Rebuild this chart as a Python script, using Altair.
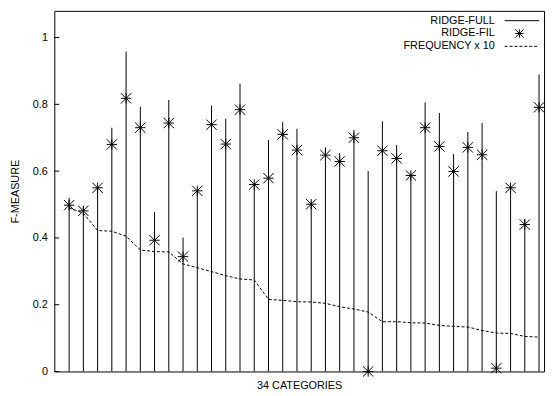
import altair as alt
import pandas as pd

categories = list(range(1, 35))
ridge_full = [0.52, 0.494, 0.553, 0.73, 0.958, 0.793, 0.478, 0.813, 0.401, 0.54,
              0.796, 0.757, 0.862, 0.564, 0.693, 0.747, 0.727, 0.508, 0.671, 0.654,
              0.723, 0.600, 0.749, 0.678, 0.592, 0.806, 0.774, 0.651, 0.717, 0.744,
              0.540, 0.553, 0.457, 0.889]
ridge_fil = [0.498, 0.481, 0.55, 0.68, 0.818, 0.73, 0.393, 0.744, 0.344, 0.541,
             0.739, 0.681, 0.784, 0.56, 0.579, 0.71, 0.663, 0.501, 0.648, 0.629,
             0.700, 0.0, 0.661, 0.638, 0.587, 0.730, 0.674, 0.599, 0.671, 0.649,
             0.01, 0.55, 0.44, 0.791]
frequency_x10 = [0.49, 0.474, 0.422, 0.42, 0.405, 0.364, 0.359, 0.358, 0.322, 0.311,
                 0.299, 0.287, 0.277, 0.274, 0.216, 0.213, 0.209, 0.208, 0.204, 0.194,
                 0.187, 0.178, 0.149, 0.149, 0.146, 0.145, 0.138, 0.135, 0.133, 0.123,
                 0.115, 0.114, 0.105, 0.103]
y_ticks = [0, 0.2, 0.4, 0.6, 0.8, 1.0]
legend_labels = ["RIDGE-FULL", "RIDGE-FIL", "FREQUENCY x 10"]

FONT = "Liberation Sans"
STAR = "M-1,0L1,0M0,-1L0,1M-1,-1L1,1M-1,1L1,-1"

df = pd.DataFrame({"cat": categories, "full": ridge_full, "fil": ridge_fil,
                   "freq": frequency_x10})

xscale = alt.Scale(domain=[-0.04, 34.35], nice=False, zero=False)
yscale = alt.Scale(domain=[0, 1.08], nice=False)

x_enc = alt.X("cat:Q", scale=xscale,
              axis=alt.Axis(labels=False, ticks=False, domain=False, grid=False,
                            title="34 CATEGORIES", titlePadding=8))
y_axis = alt.Axis(values=y_ticks, format="~g", ticks=False, domain=False, grid=False,
                  labelPadding=7, title="F-MEASURE", titlePadding=12)

base = alt.Chart(df)

impulses = base.mark_rule(color="black", strokeWidth=1).encode(
    x=x_enc,
    y=alt.Y("full:Q", scale=yscale, axis=y_axis),
    y2=alt.datum(0),
)

freq_line = base.mark_line(color="black", strokeWidth=1, strokeDash=[3, 2]).encode(
    x=alt.X("cat:Q", scale=xscale),
    y=alt.Y("freq:Q", scale=yscale),
)

stars = base.mark_point(shape=STAR, filled=False, color="black", size=110,
                        strokeWidth=1, opacity=1).encode(
    x=alt.X("cat:Q", scale=xscale),
    y=alt.Y("fil:Q", scale=yscale),
)

tick_df = pd.DataFrame({"t": y_ticks})
ticks = alt.Chart(tick_df).mark_rule(color="black", strokeWidth=1).encode(
    y=alt.Y("t:Q", scale=yscale),
    x=alt.value(0),
    x2=alt.value(5),
)

legend_layers = []
rows_y = [10, 23, 36]
for i, lab in enumerate(legend_labels):
    ldf = pd.DataFrame({"t": [lab]})
    legend_layers.append(
        alt.Chart(ldf).mark_text(align="right", baseline="middle", font=FONT,
                                 fontSize=11, color="black").encode(
            text="t:N", x=alt.value(447), y=alt.value(rows_y[i]))
    )
    if i == 0:
        legend_layers.append(alt.Chart(ldf).mark_rule(color="black", strokeWidth=1).encode(
            x=alt.value(457), x2=alt.value(492), y=alt.value(rows_y[i])))
    elif i == 1:
        legend_layers.append(alt.Chart(ldf).mark_point(
            shape=STAR, filled=False, color="black", size=70, strokeWidth=1, opacity=1).encode(
            x=alt.value(472), y=alt.value(rows_y[i])))
    else:
        legend_layers.append(alt.Chart(ldf).mark_rule(
            color="black", strokeWidth=1, strokeDash=[3, 2]).encode(
            x=alt.value(457), x2=alt.value(492), y=alt.value(rows_y[i])))

chart = alt.layer(impulses, freq_line, stars, ticks, *legend_layers).properties(
    width=497, height=366,
    autosize=alt.AutoSizeParams(type="none"),
    padding={"left": 47, "top": 0, "right": 2, "bottom": 22},
).configure_view(
    stroke="black", strokeWidth=1
).configure_axis(
    labelFont=FONT, titleFont=FONT, labelFontSize=11, titleFontSize=11,
    titleFontWeight="normal", labelColor="black", titleColor="black"
)

chart.save("out.html", embed_options={"renderer": "svg", "actions": False})
